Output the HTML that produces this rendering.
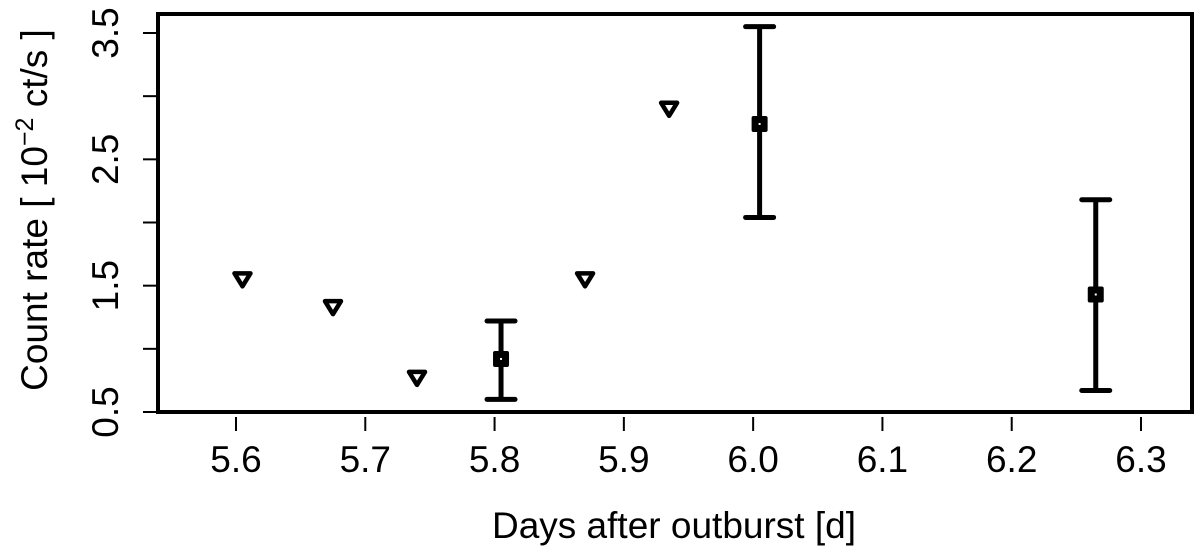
<!DOCTYPE html>
<html><head><meta charset="utf-8"><style>
body{margin:0;background:#fff}
svg text{font-family:"Liberation Sans",sans-serif;fill:#000}
</style></head><body>
<svg id="chart" width="1200" height="549" xmlns="http://www.w3.org/2000/svg"></svg>
<script>
const xTicks=[5.6,5.7,5.8,5.9,6.0,6.1,6.2,6.3];
const xTickLabels=["5.6","5.7","5.8","5.9","6.0","6.1","6.2","6.3"];
const yTicks=[0.5,1.0,1.5,2.0,2.5,3.0,3.5];
const yTickLabels={0.5:"0.5",1.5:"1.5",2.5:"2.5",3.5:"3.5"};
const limX=[5.605,5.675,5.74,5.87,5.935];
const limY=[1.55,1.33,0.77,1.55,2.9];
const detX=[5.805,6.005,6.265];
const detY=[0.92,2.78,1.43];
const detLo=[0.60,2.04,0.67];
const detHi=[1.22,3.55,2.18];

const svg=document.getElementById('chart');
const NS='http://www.w3.org/2000/svg';
const L=158,R=1192,T=14,B=412;
const X=v=>236+(v-5.6)/0.7*(1141-236);
const Y=v=>412-(v-0.5)/3*(412-33);
function mk(tag,attrs,parent){const e=document.createElementNS(NS,tag);for(const k in attrs)e.setAttribute(k,attrs[k]);(parent||svg).appendChild(e);return e;}

const frame=mk('rect',{x:L,y:T,width:R-L,height:B-T,fill:'none',stroke:'#000','stroke-width':4});



const xg=mk('g',{});


xTicks.forEach((t,i)=>{
  mk('line',{x1:X(t),x2:X(t),y1:417,y2:431,stroke:'#000','stroke-width':2},xg);
  const tx=mk('text',{x:X(t),y:472,'font-size':37,'text-anchor':'middle'},xg);
  tx.textContent=xTickLabels[i];
  
  
});
const yg=mk('g',{});


yTicks.forEach(t=>{
  mk('line',{x1:L,x2:L-15,y1:Y(t),y2:Y(t),stroke:'#000','stroke-width':2},yg);
  if(yTickLabels[t]){
    const tx=mk('text',{x:0,y:0,'font-size':37,'text-anchor':'middle',transform:`translate(118,${Y(t)}) rotate(-90)`},yg);
    tx.textContent=yTickLabels[t];
    
    
  }
});
const xt=mk('text',{x:674,y:538,'font-size':37,'text-anchor':'middle'});
xt.textContent='Days after outburst [d]';


const yt=mk('text',{x:0,y:0,'font-size':37,'text-anchor':'middle',transform:'translate(47,210) rotate(-90)'});
yt.innerHTML='Count rate [ 10<tspan dy="-14" font-size="25">−2</tspan><tspan dy="14"> ct/s ]</tspan>';



limX.forEach((v,i)=>{
  const cx=X(v),cy=Y(limY[i]);
  const p=mk('polygon',{points:`${cx-8},${cy-6} ${cx+8},${cy-6} ${cx},${cy+7}`,fill:'none',stroke:'#000','stroke-width':4.5,'stroke-linejoin':'round'});
  
  
});
detX.forEach((v,i)=>{
  const g=mk('g',{});
  
  
  const cx=X(v),lo=Y(detLo[i]),hi=Y(detHi[i]),cy=Y(detY[i]);
  mk('line',{x1:cx,x2:cx,y1:lo,y2:hi,stroke:'#000','stroke-width':5},g);
  mk('line',{x1:cx-14,x2:cx+14,y1:lo,y2:lo,stroke:'#000','stroke-width':5,'stroke-linecap':'round'},g);
  mk('line',{x1:cx-14,x2:cx+14,y1:hi,y2:hi,stroke:'#000','stroke-width':5,'stroke-linecap':'round'},g);
  mk('rect',{x:cx-8,y:cy-8,width:16,height:16,rx:2,fill:'#000'},g);
  mk('rect',{x:cx-1,y:cy-1,width:2,height:2,fill:'#fff'},g);
});
</script>
</body></html>
